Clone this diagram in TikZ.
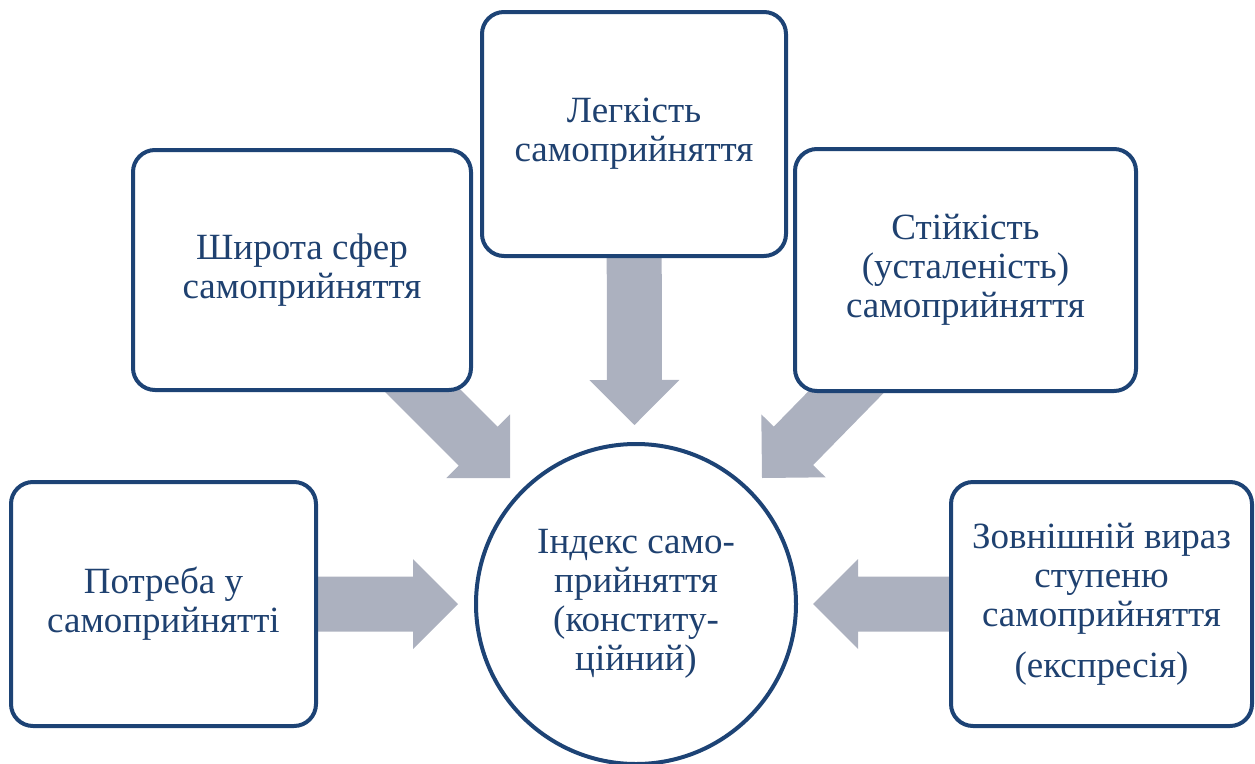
\documentclass[tikz,border=0pt]{standalone}
\usepackage{fontspec}
\setmainfont{Liberation Serif}
\usetikzlibrary{calc}
\definecolor{navy}{HTML}{1D4375}
\definecolor{txtblue}{HTML}{1F4170}
\definecolor{arrowgray}{HTML}{ACB1BF}
\newcommand\blockarr[3]{%
  \coordinate (#1b) at ($(#3)!45pt!(#2)$);
  \fill[arrowgray] ($(#2)!27.5pt!90:(#3)$) -- ($(#1b)!27.5pt!90:(#3)$) -- ($(#1b)!45pt!90:(#3)$) -- (#3) -- ($(#1b)!45pt!-90:(#3)$) -- ($(#1b)!27.5pt!-90:(#3)$) -- ($(#2)!27.5pt!-90:(#3)$) -- cycle;}
\begin{document}
\begin{tikzpicture}[x=1pt,y=-1pt,
  box/.style={draw=navy, line width=4pt, fill=white, rounded corners=22pt, inner sep=0pt,
    align=center, text=txtblue, font=\fontsize{37}{39}\selectfont},
  hub/.style={draw=navy, line width=4pt, fill=white, circle, inner sep=0pt,
    minimum size=320pt, align=center, text=txtblue, font=\fontsize{37}{39}\selectfont}]
\useasboundingbox (0,0) rectangle (1255,763);
% named positions
\coordinate (cLeg) at (634,134);
\coordinate (cShy) at (302,270);
\coordinate (cSti) at (965.5,270);
\coordinate (cPot) at (163.5,604);
\coordinate (cZov) at (1101.5,604);
\coordinate (tDown) at (634.5,425);
\coordinate (tDL) at (510,478);
\coordinate (tDR) at (762,478);
\coordinate (tL) at (458,604);
\coordinate (tR) at (813,604);
% block arrows (behind the boxes)
\blockarr{aD}{cLeg}{tDown}
\blockarr{aDL}{cShy}{tDL}
\blockarr{aDR}{cSti}{tDR}
\blockarr{aL}{cPot}{tL}
\blockarr{aR}{cZov}{tR}
% boxes
\node[box, minimum width=304pt, minimum height=244pt] (leg) at (cLeg) {Легкість\\самоприйняття};
\node[box, minimum width=338pt, minimum height=240pt] (shy) at (cShy) {Широта сфер\\самоприйняття};
\node[box, minimum width=341pt, minimum height=242pt] (sti) at (cSti) {Стійкість\\(усталеність)\\самоприйняття};
\node[box, minimum width=305pt, minimum height=244pt] (pot) at (cPot) {Потреба у\\самоприйнятті};
\node[box, minimum width=301pt, minimum height=244pt] (zov) at (cZov) {Зовнішній вираз\\ступеню\\самоприйняття\\[12pt](експресія)};
\node[hub] (hub) at (636,604) {Індекс само-\\прийняття\\(конститу-\\ційний)};
\end{tikzpicture}
\end{document}
